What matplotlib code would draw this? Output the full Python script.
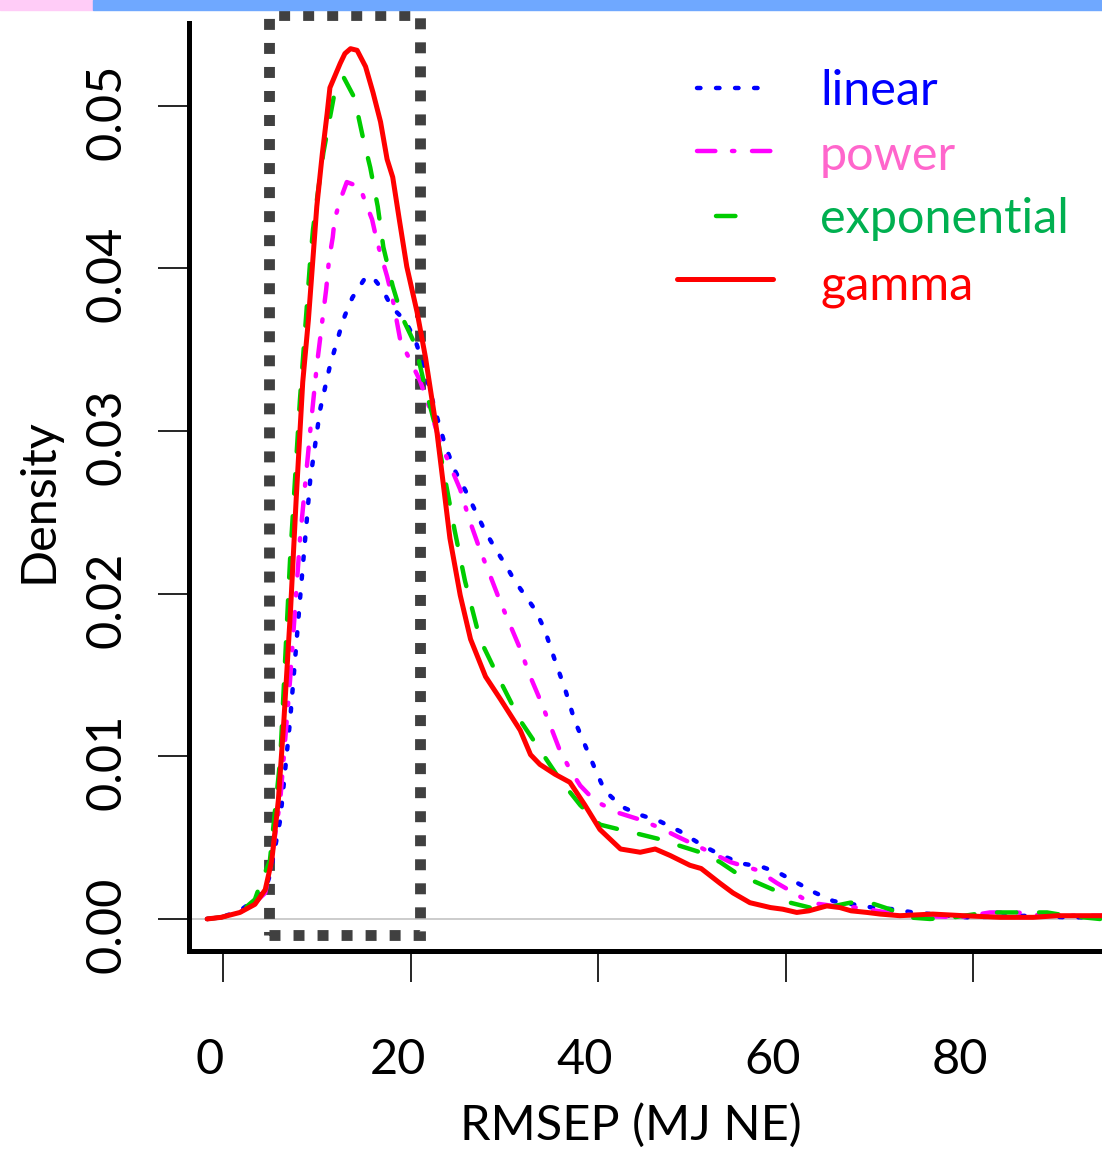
import matplotlib
matplotlib.use("Agg")
import matplotlib.pyplot as plt
from matplotlib.patches import Rectangle
from matplotlib.transforms import ScaledTranslation

plt.rcParams['font.family'] = ['Lato', 'DejaVu Sans']
plt.rcParams['lines.scale_dashes'] = False

# Density curves (x = RMSEP, y = density)
linear_x = [-1.7, -0.2, 1.8, 3.4, 4.5, 5.0, 6.1, 7.15, 8.2, 9.3, 10.35, 11.4, 12.5, 13.0, 13.8,
            15.15, 15.9, 17.0, 18.0, 19.4, 20.5, 21.5, 22.6, 23.7, 24.7, 25.8, 26.9, 27.9, 29.0,
            30.1, 31.1, 32.2, 33.3, 34.3, 35.4, 36.5, 37.5, 38.6, 39.7, 40.7, 41.8, 42.9, 44.5,
            46.6, 48.7, 51.2, 53.2, 55.4, 57.5, 59.4, 61.3, 63.2, 65.1, 69.3, 71.5, 73.6, 79.4,
            86.1, 90.0, 95.0]
linear_y = [0, 0.0001, 0.0005, 0.0012, 0.0018, 0.0027, 0.0061, 0.0122, 0.0196, 0.0270, 0.0313,
            0.0340, 0.0362, 0.0371, 0.0382, 0.0394, 0.0395, 0.0387, 0.0376, 0.0368, 0.0356,
            0.0338, 0.0313, 0.0291, 0.0276, 0.0264, 0.0251, 0.0239, 0.0228, 0.0218, 0.0208,
            0.0199, 0.0190, 0.0178, 0.0159, 0.0141, 0.0122, 0.0107, 0.0092, 0.0079, 0.0073,
            0.0068, 0.0064, 0.0060, 0.0054, 0.0045, 0.0039, 0.0034, 0.0032, 0.0028, 0.0022,
            0.0016, 0.0011, 0.0007, 0.0006, 0.0004, 0.0001, 0.0002, 0.0001, 0.0001]

power_x = [-1.7, -0.2, 1.8, 3.4, 4.5, 5.0, 6.1, 7.15, 8.2, 9.3, 10.0, 10.7, 11.0, 11.3, 11.7,
           11.9, 12.5, 13.2, 14.6, 15.1, 15.9, 16.4, 17.0, 17.5, 18.1, 18.9, 19.9, 21.0, 22.1,
           23.1, 24.2, 25.3, 26.3, 27.4, 28.5, 29.5, 30.6, 31.7, 32.7, 33.8, 34.9, 35.9, 37.0,
           38.1, 39.1, 40.2, 42.3, 44.5, 46.6, 48.7, 50.9, 54.1, 57.0, 59.1, 61.2, 62.6, 65.1,
           67.6, 70.8, 74.0, 78.6, 81.8, 84.7, 87.5, 91.1, 95.0]
power_y = [0, 0.0001, 0.0004, 0.0010, 0.0016, 0.0030, 0.0073, 0.0147, 0.0233, 0.0300, 0.0340,
           0.0373, 0.0387, 0.0405, 0.0419, 0.0430, 0.0442, 0.0453, 0.0450, 0.0442, 0.0430,
           0.0417, 0.0405, 0.0395, 0.0381, 0.0356, 0.0344, 0.0331, 0.0313, 0.0294, 0.0279,
           0.0264, 0.0245, 0.0227, 0.0211, 0.0196, 0.0181, 0.0166, 0.0150, 0.0135, 0.0119,
           0.0104, 0.0092, 0.0082, 0.0076, 0.0071, 0.0065, 0.0061, 0.0056, 0.0050, 0.0044,
           0.0035, 0.0030, 0.0022, 0.0015, 0.0010, 0.0008, 0.0007, 0.0004, 0.0002, 0.0001,
           0.0004, 0.0004, 0.0002, 0.0002, 0.0002]

exponential_x = [-1.7, -0.2, 1.8, 3.4, 3.95, 5.0, 6.1, 7.15, 8.2, 9.3, 9.6, 10.1, 10.7, 11.9,
                 12.9, 14.0, 14.9, 15.7, 16.5, 17.1, 18.1, 19.1, 20.5, 21.5, 22.6, 23.7, 24.7,
                 25.8, 27.4, 29.5, 31.7, 33.8, 35.9, 38.1, 40.2, 42.3, 44.5, 46.6, 48.7, 50.9,
                 53.0, 54.8, 56.7, 58.7, 60.5, 62.6, 64.4, 66.9, 69.0, 71.1, 73.0, 75.4, 77.9,
                 81.5, 83.6, 85.8, 87.9, 90.0, 93.5, 95.0]
exponential_y = [0, 0.0001, 0.0004, 0.0012, 0.0021, 0.0036, 0.0098, 0.0221, 0.0319, 0.0405,
                 0.0424, 0.0446, 0.0471, 0.0508, 0.0517, 0.0505, 0.0481, 0.0462, 0.0438, 0.0413,
                 0.0389, 0.0370, 0.0353, 0.0328, 0.0304, 0.0270, 0.0239, 0.0208, 0.0172, 0.0147,
                 0.0122, 0.0104, 0.0086, 0.0070, 0.0058, 0.0055, 0.0052, 0.0049, 0.0045, 0.0041,
                 0.0035, 0.0028, 0.0023, 0.0018, 0.0010, 0.0007, 0.0007, 0.0010, 0.0010, 0.0006,
                 0.0001, 0.0, 0.0001, 0.0004, 0.0004, 0.0004, 0.0004, 0.0002, 0.0, 0.0]

gamma_x = [-1.7, -0.2, 1.8, 3.4, 4.5, 5.2, 5.9, 6.5, 7.2, 7.8, 8.5, 9.1, 9.5, 10.0, 10.6, 11.1,
           11.4, 12.5, 13.0, 13.6, 14.3, 15.2, 16.0, 16.8, 17.5, 18.1, 18.8, 19.6, 20.7, 21.6,
           22.8, 24.2, 25.3, 26.4, 28.0, 29.6, 31.7, 32.8, 33.8, 35.4, 37.0, 38.6, 40.2, 42.4,
           44.5, 46.1, 47.7, 49.8, 51.0, 53.0, 54.4, 56.2, 58.4, 59.7, 61.2, 62.5, 64.4, 65.8,
           67.0, 68.7, 70.1, 72.2, 75.7, 79.0, 82.9, 86.4, 89.0, 91.7, 95.0]
gamma_y = [0, 0.0001, 0.0004, 0.0009, 0.0018, 0.0036, 0.0073, 0.0123, 0.0190, 0.0258, 0.0330,
           0.0368, 0.0399, 0.0438, 0.0471, 0.0495, 0.0511, 0.0526, 0.0532, 0.0535, 0.0534,
           0.0524, 0.0508, 0.0490, 0.0467, 0.0456, 0.0430, 0.0401, 0.0373, 0.0345, 0.0300,
           0.0234, 0.0199, 0.0172, 0.0149, 0.0135, 0.0116, 0.0101, 0.0095, 0.0089, 0.0084,
           0.0070, 0.0055, 0.0043, 0.0041, 0.0043, 0.0039, 0.0033, 0.0031, 0.0022, 0.0016,
           0.0010, 0.0007, 0.0006, 0.0004, 0.0005, 0.0008, 0.0007, 0.0005, 0.0004, 0.0003,
           0.0002, 0.0003, 0.0002, 0.0001, 0.0001, 0.0002, 0.0002, 0.0002]

series_names = ["linear", "power", "exponential", "gamma"]
line_colors = ["#0000ff", "#ff00ff", "#00cc00", "#ff0000"]
text_colors = ["#0000ff", "#ff66cc", "#00b050", "#ff0000"]

x_ticks = [0, 20, 40, 60, 80]
y_ticks = [0.0, 0.01, 0.02, 0.03, 0.04, 0.05]
y_tick_labels = ["0.00", "0.01", "0.02", "0.03", "0.04", "0.05"]

# highlighted range (dotted box)
box_x = (4.85, 21.05)
box_y = (-0.0010, 0.0556)

fig = plt.figure(figsize=(11.02, 11.49), dpi=100)
ax = fig.add_axes([0.1711, 0.1719, 0.8289, 0.8081])

# strip along the top edge
fig.patches.append(Rectangle((0, 1 - 10 / 1149), 93 / 1102, 10 / 1149,
                             transform=fig.transFigure, color="#ffccf7", zorder=0))
fig.patches.append(Rectangle((93 / 1102, 1 - 10 / 1149), 1 - 93 / 1102, 10 / 1149,
                             transform=fig.transFigure, color="#6fa8ff", zorder=0))

ax.axhline(0, color="#bebebe", lw=1.1, zorder=1)

ax.add_patch(Rectangle((box_x[0], box_y[0]), box_x[1] - box_x[0], box_y[1] - box_y[0],
                       fill=False, ec="#404040", lw=7.8, ls=(0, (7.9, 9.4)),
                       clip_on=False, zorder=2))

styles = [(0, (2.5, 11.2)), (0, (13.2, 12.0, 1.7, 12.7)), (0, (14.0, 16.3)), "-"]
widths = [3.2, 3.2, 3.2, 3.6]
data = [(linear_x, linear_y), (power_x, power_y),
        (exponential_x, exponential_y), (gamma_x, gamma_y)]
for (xs, ys), col, st, lw in zip(data, line_colors, styles, widths):
    ax.plot(xs, ys, color=col, ls=st, lw=lw, dash_capstyle="round",
            solid_capstyle="round", zorder=3)

# legend drawn by hand, like the R legend
legend_lines = [(0.5566, 0.6289, 0.9300), (0.5570, 0.6377, 0.8620),
                (0.5778, 0.6001, 0.7920), (0.5351, 0.6395, 0.7240)]
legend_text_y = [0.9117, 0.8417, 0.7738, 0.7017]
for i, name in enumerate(series_names):
    x0, x1, yl = legend_lines[i]
    ax.plot([x0, x1], [yl, yl], transform=ax.transAxes, color=line_colors[i],
            ls=styles[i], lw=widths[i], dash_capstyle="round", solid_capstyle="round",
            clip_on=False)
    ax.text(0.6913, legend_text_y[i], name, transform=ax.transAxes, color=text_colors[i],
            fontsize=35, ha="left", va="baseline")

ax.set_xlim(-3.68, 93.76)
ax.set_ylim(-0.0020, 0.05508)
ax.set_xticks(x_ticks)
ax.set_yticks(y_ticks)
ax.set_yticklabels(y_tick_labels, rotation=90, va="center")

for side in ["top", "right"]:
    ax.spines[side].set_visible(False)
for side in ["left", "bottom"]:
    ax.spines[side].set_linewidth(3.6)
    ax.spines[side].set_capstyle("projecting")

ax.tick_params(axis="both", length=22.5, width=1.2, labelsize=35, color="black")
ax.tick_params(axis="x", pad=40)
ax.tick_params(axis="y", pad=21)

for lab in ax.get_xticklabels():
    lab.set_transform(lab.get_transform() + ScaledTranslation(-0.13, 0, fig.dpi_scale_trans))
for lab in ax.get_yticklabels():
    lab.set_transform(lab.get_transform() + ScaledTranslation(0, -0.06, fig.dpi_scale_trans))

ax.set_xlabel("RMSEP (MJ NE)", fontsize=35)
ax.set_ylabel("Density", fontsize=35)
ax.xaxis.set_label_coords(0.4844, -0.1632)
ax.yaxis.set_label_coords(-0.1407, 0.486)

fig.savefig("out.png", dpi=100)
